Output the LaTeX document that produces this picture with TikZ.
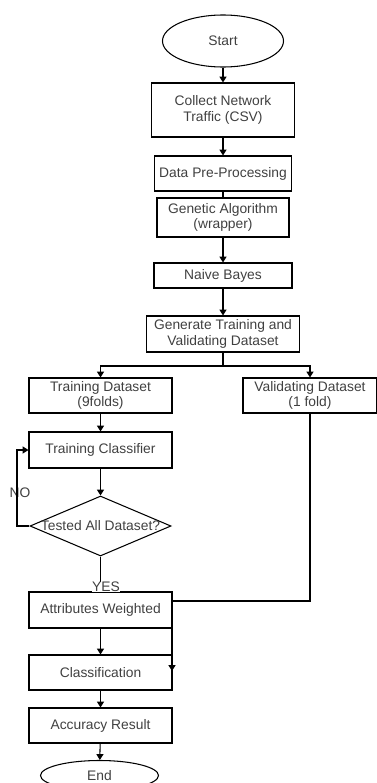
\documentclass[tikz,border=0pt]{standalone}
\usepackage{fontspec}
\setmainfont{Liberation Sans}
\usetikzlibrary{shapes.geometric,arrows.meta}

\begin{document}
\begin{tikzpicture}[x=0.03cm,y=-0.03cm,
  proc/.style={draw,line width=0.9pt,rectangle,align=center,inner sep=1pt,
    text=black!75,font=\fontsize{11.8}{13.5}\selectfont},
  term/.style={proc,ellipse},
  decide/.style={proc,diamond},
  lbl/.style={text=black!75,font=\fontsize{11.8}{13.5}\selectfont,inner sep=0.5pt},
  flow/.style={line width=0.9pt,-{Triangle[width=6pt,length=5pt]}},
  link/.style={line width=0.9pt}]
\useasboundingbox (0,0) rectangle (377,783);
\node[term,minimum width=3.63cm,minimum height=1.56cm] (start) at (223,41) {Start};
\node[proc,minimum width=4.29cm,minimum height=1.62cm] (collect) at (223,110) {Collect Network\\Traffic (CSV)};
\node[proc,minimum width=4.11cm,minimum height=1.05cm] (prep) at (223,173.5) {Data Pre-Processing};
\node[proc,minimum width=3.96cm,minimum height=1.17cm] (ga) at (223,217.5) {Genetic Algorithm\\(wrapper)};
\node[proc,minimum width=4.14cm,minimum height=0.75cm] (nb) at (223,275.5) {Naive Bayes};
\node[proc,minimum width=4.59cm,minimum height=1.08cm] (gen) at (223,334) {Generate Training and\\Validating Dataset};
\node[proc,minimum width=4.29cm,minimum height=1.05cm] (train) at (100.5,395.5) {Training Dataset\\(9folds)};
\node[proc,minimum width=4.02cm,minimum height=1.05cm] (val) at (310,395.5) {Validating Dataset\\(1 fold)};
\node[proc,minimum width=4.29cm,minimum height=1.08cm] (tc) at (100.5,450) {Training Classifier};
\node[decide,inner sep=0pt,minimum width=4.23cm,minimum height=1.8cm] (dia) at (100.5,526) {\makebox[0pt]{Tested All Dataset?}};
\node[proc,minimum width=4.29cm,minimum height=1.08cm] (att) at (100.5,610) {Attributes Weighted};
\node[proc,minimum width=4.29cm,minimum height=1.05cm] (cls) at (100.5,672.5) {Classification};
\node[proc,minimum width=4.29cm,minimum height=1.05cm] (acc) at (100.5,725.5) {Accuracy Result};
\node[term,minimum width=3.54cm,minimum height=0.9cm] (end) at (99.5,775.5) {End};
\node[lbl] (no) at (20,493) {NO};
\coordinate (split) at (223,366);
\coordinate (noturn) at (17,526);
\coordinate (valjoin) at (172,601);
\coordinate (valend) at (172,671);
\draw[flow] (start) -- (collect);
\draw[flow] (collect) -- (prep);
\draw[link] (prep) -- (ga);
\draw[flow] (ga) -- (nb);
\draw[flow] (nb) -- (gen);
\draw[link] (gen.south) -- (split);
\draw[flow] (split) -| (train.north);
\draw[flow] (split) -| (val.north);
\draw[flow] (train) -- (tc);
\draw[flow] (tc) -- (dia);
\draw[flow] (dia.west) -- (noturn) |- (tc.west);
\draw[link] (dia.south) -- (att.north);
\node[lbl,fill=white] (yes) at (106,587) {YES};
\draw[flow] (val.south) |- (valjoin) -- (valend);
\draw[flow] (att) -- (cls);
\draw[flow] (cls) -- (acc);
\draw[flow] (acc) -- (end);
\end{tikzpicture}
\end{document}
